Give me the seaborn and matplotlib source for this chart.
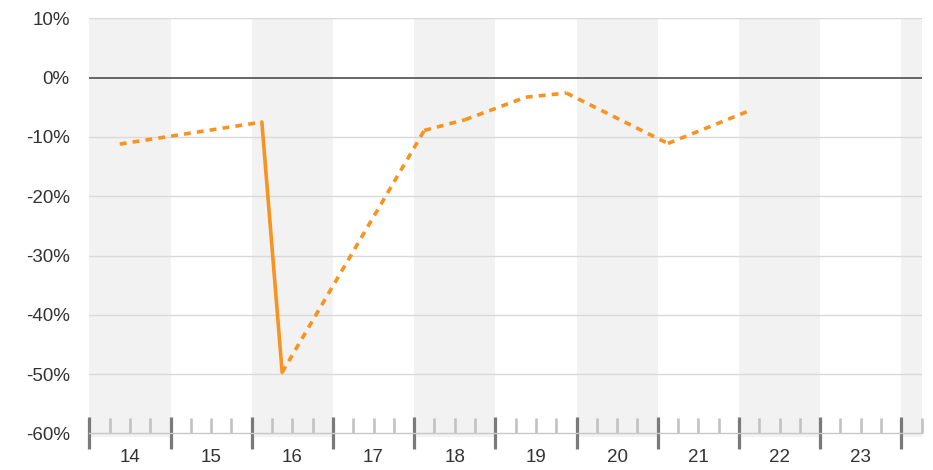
import numpy as np
import pandas as pd
import matplotlib
matplotlib.use('Agg')
import matplotlib.pyplot as plt
import matplotlib.ticker as mticker
import seaborn as sns

# --- Data (quarter midpoints, % change) ---
quarters = [14.375, 16.125, 16.375, 18.125, 18.625, 19.375, 19.875, 21.125, 22.125]
values = [-11.2, -7.5, -49.7, -8.9, -7.1, -3.3, -2.6, -11.1, -5.6]
years = list(range(14, 24))
year_labels = [str(y) for y in years]

ORANGE = '#f7931e'
BAND = '#f2f2f2'
TEXT = '#333333'

sns.set_theme(style='white')
plt.rcParams['font.family'] = ['Liberation Sans', 'DejaVu Sans']

# build segments: solid between adjacent quarters, dashed across gaps
rows = []
for i in range(len(quarters) - 1):
    kind = 'adjacent' if abs(quarters[i + 1] - quarters[i] - 0.25) < 1e-6 else 'gap'
    for j in (i, i + 1):
        rows.append({'seg': i, 'kind': kind, 'x': quarters[j], 'y': values[j]})
seg_df = pd.DataFrame(rows)

fig = plt.figure(figsize=(9.33, 4.70), dpi=100)
ax = fig.add_axes([0.0957, 0.0777, 0.9879 - 0.0957, 0.961 - 0.0777])

x_min, x_max = 14, 24.25
ax.set_xlim(x_min, x_max)
ax.set_ylim(-60, 10)

# alternating year bands
for y in range(14, 25, 2):
    ax.axvspan(y, min(y + 1, x_max), ymin=-0.0085, ymax=1, color=BAND, lw=0,
               zorder=0, clip_on=False)

# gridlines
for v in [10, -10, -20, -30, -40, -50]:
    ax.axhline(v, color='#d9d9d9', lw=1, zorder=1)
ax.axhline(0, color='#666666', lw=1.4, zorder=1)

sns.lineplot(data=seg_df, x='x', y='y', units='seg', style='kind', estimator=None,
             dashes={'gap': (1.9, 1.7), 'adjacent': ''}, color=ORANGE, lw=2.6,
             legend=False, ax=ax, zorder=3, sort=False)

for s in ['top', 'right', 'left']:
    ax.spines[s].set_visible(False)
ax.spines['bottom'].set_color('#c8c8c8')
ax.spines['bottom'].set_linewidth(1)

# y axis
ax.set_yticks(range(-60, 11, 10))
ax.yaxis.set_major_formatter(mticker.FuncFormatter(lambda v, p: f'{int(v)}%'))
ax.tick_params(axis='y', length=0, pad=14, labelsize=13.5, labelcolor=TEXT)

# x axis: major at year boundaries, minor at quarters, labels at mid-year
ax.set_xticks(range(14, 25))
ax.set_xticklabels([''] * 11)
minor_pos = [y + q for y in range(14, 25) for q in (0.25, 0.5, 0.75) if y + q <= x_max]
minor_lab = []
for p in minor_pos:
    frac = p - int(p)
    if abs(frac - 0.5) < 1e-6 and int(p) in years:
        minor_lab.append(str(int(p)))
    else:
        minor_lab.append('')
ax.xaxis.set_minor_locator(mticker.FixedLocator(minor_pos))
ax.xaxis.set_minor_formatter(mticker.FixedFormatter(minor_lab))
ax.tick_params(axis='x', which='major', direction='inout', length=22.5, width=2.3,
               color='#7a7a7a', bottom=True)
ax.tick_params(axis='x', which='minor', direction='in', length=10.8, width=1.9,
               color='#c2c2c2', pad=11.5, labelsize=13.5, labelcolor=TEXT, bottom=True)

ax.set_xlabel('')
ax.set_ylabel('')

fig.savefig('out.png', dpi=100)
